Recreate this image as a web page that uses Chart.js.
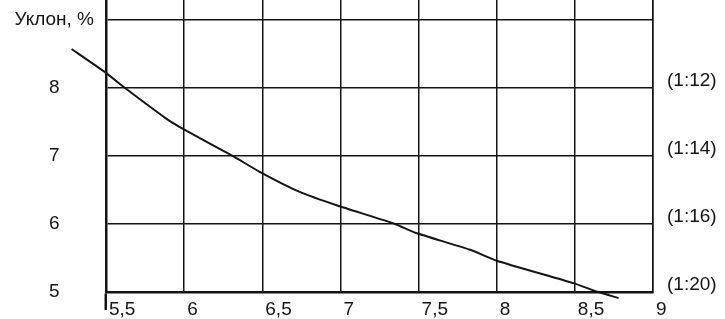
<!DOCTYPE html>
<html>
<head>
<meta charset="utf-8">
<script src="https://cdn.jsdelivr.net/npm/chart.js@4"></script>
<style>
    html, body { margin: 0; padding: 0; background: #fff; }
    #wrap { position: relative; width: 725px; height: 319px; }
</style>
</head>
<body>
<div id="wrap"><canvas id="slopeChart"></canvas></div>
<script>
// ==========================
// DATA
// ==========================
const xTicks = [5.5, 6, 6.5, 7, 7.5, 8, 8.5, 9];
const xTickLabels = ["5,5", "6", "6,5", "7", "7,5", "8", "8,5", "9"];

const yTicks = [5, 6, 7, 8, 9];
const yTickLabels = ["5", "6", "7", "8", "Уклон, %"];

const ratioTicks = [5, 6, 7, 8];
const ratioLabels = ["(1:20)", "(1:16)", "(1:14)", "(1:12)"];

// curve
const slopeX = [5.28, 5.5, 5.62, 5.89, 5.99, 6.31, 6.48, 6.74, 6.98, 7.35, 7.48, 7.83, 8.0, 8.49, 8.65, 8.78];
const slopeY = [8.57, 8.22, 8.0, 7.54, 7.40, 7.0, 6.77, 6.47, 6.27, 6.0, 5.87, 5.62, 5.46, 5.13, 5.0, 4.91];

const INK = "#141414";
const FONT = { family: "'Liberation Sans', Arial, sans-serif", size: 19 };

function useTicks(list) {
    return scale => {
        scale.ticks = list.map(v => ({ value: v }));
    };
}

function labelFrom(values, labels) {
    return value => {
        const i = values.indexOf(value);
        return i >= 0 ? labels[i] : "";
    };
}

// fixed box size, no extra room for overflowing labels
function fitBox(w, h) {
    return scale => {
        if (w) scale.width = w;
        if (h) scale.height = h;
        scale.paddingTop = 0;
        scale.paddingBottom = 0;
        scale.paddingLeft = 0;
        scale.paddingRight = 0;
    };
}

const points = slopeX.map((x, i) => ({ x: x, y: slopeY[i] }));

new Chart(document.getElementById("slopeChart"), {
    type: "line",
    data: {
        datasets: [{
            data: points,
            borderColor: INK,
            borderWidth: 2,
            pointRadius: 0,
            tension: 0.15,
            clip: false,
            yAxisID: "y"
        }]
    },
    options: {
        responsive: true,
        maintainAspectRatio: false,
        animation: false,
        layout: { padding: 0 },
        plugins: {
            legend: { display: false },
            tooltip: { enabled: false }
        },
        scales: {
            x: {
                type: "linear",
                min: 5.5,
                max: 9,
                afterBuildTicks: useTicks(xTicks),
                afterFit: fitBox(0, 27),
                grid: {
                    color: INK,
                    lineWidth: 1.5,
                    tickLength: 18,
                    tickWidth: 2.5,
                    tickColor: ctx => ctx.index === 0 ? INK : "transparent"
                },
                border: { color: INK, width: 2.5 },
                ticks: {
                    align: "start",
                    labelOffset: 3,
                    padding: -12,
                    color: INK,
                    font: FONT,
                    maxRotation: 0,
                    autoSkip: false,
                    callback: labelFrom(xTicks, xTickLabels)
                }
            },
            y: {
                position: "left",
                min: 5,
                max: 9.29,
                afterBuildTicks: useTicks(yTicks),
                afterFit: fitBox(106, 0),
                grid: { color: INK, lineWidth: 1.5, drawTicks: false },
                border: { color: INK, width: 2.5 },
                ticks: {
                    crossAlign: "center",
                    padding: 12,
                    color: INK,
                    font: FONT,
                    autoSkip: false,
                    callback: labelFrom(yTicks, yTickLabels)
                }
            },
            ratio: {
                position: "right",
                min: 5,
                max: 9.29,
                afterBuildTicks: useTicks(ratioTicks),
                afterFit: fitBox(72, 0),
                grid: { drawOnChartArea: false, drawTicks: false },
                border: { color: INK, width: 1.5 },
                ticks: {
                    crossAlign: "near",
                    padding: 14,
                    labelOffset: -7,
                    color: INK,
                    font: FONT,
                    autoSkip: false,
                    callback: labelFrom(ratioTicks, ratioLabels)
                }
            }
        }
    }
});
</script>
</body>
</html>
